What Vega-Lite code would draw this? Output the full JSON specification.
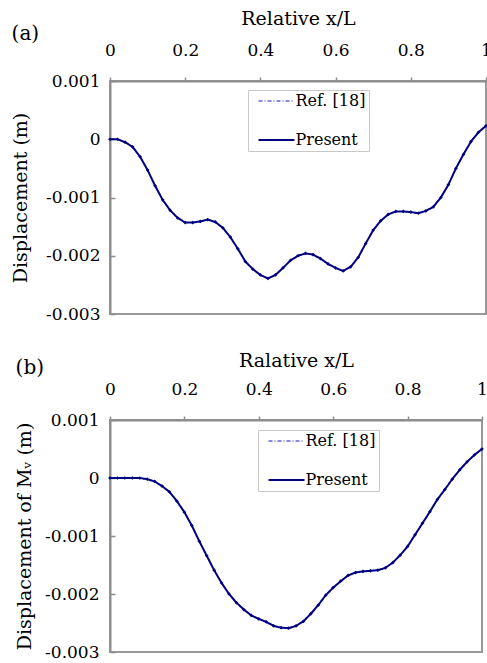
{
  "$schema": "https://vega.github.io/schema/vega-lite/v6.json",
  "padding": {"left": 10, "top": 8, "right": 0, "bottom": 0},
  "background": "white",
  "datasets": {
    "a": [
      {"x": 0, "y": 0}, {"x": 0.02, "y": 0}, {"x": 0.04, "y": -0.00005}, {"x": 0.06, "y": -0.00013},
      {"x": 0.08, "y": -0.0003}, {"x": 0.1, "y": -0.00053}, {"x": 0.12, "y": -0.0008}, {"x": 0.14, "y": -0.00104},
      {"x": 0.16, "y": -0.00122}, {"x": 0.18, "y": -0.00135}, {"x": 0.2, "y": -0.00143}, {"x": 0.22, "y": -0.00143},
      {"x": 0.24, "y": -0.00141}, {"x": 0.26, "y": -0.00138}, {"x": 0.28, "y": -0.00142}, {"x": 0.3, "y": -0.00152},
      {"x": 0.32, "y": -0.00168}, {"x": 0.34, "y": -0.00188}, {"x": 0.36, "y": -0.0021}, {"x": 0.38, "y": -0.00223},
      {"x": 0.4, "y": -0.00233}, {"x": 0.42, "y": -0.00239}, {"x": 0.44, "y": -0.00233}, {"x": 0.46, "y": -0.00221},
      {"x": 0.48, "y": -0.00208}, {"x": 0.5, "y": -0.002}, {"x": 0.52, "y": -0.00196}, {"x": 0.54, "y": -0.00198},
      {"x": 0.56, "y": -0.00205}, {"x": 0.58, "y": -0.00214}, {"x": 0.6, "y": -0.00221}, {"x": 0.62, "y": -0.00226},
      {"x": 0.64, "y": -0.00219}, {"x": 0.66, "y": -0.00203}, {"x": 0.68, "y": -0.00179}, {"x": 0.7, "y": -0.00156},
      {"x": 0.72, "y": -0.0014}, {"x": 0.74, "y": -0.00129}, {"x": 0.76, "y": -0.00124}, {"x": 0.78, "y": -0.00124},
      {"x": 0.8, "y": -0.00125}, {"x": 0.82, "y": -0.00127}, {"x": 0.84, "y": -0.00123}, {"x": 0.86, "y": -0.00116},
      {"x": 0.88, "y": -0.001}, {"x": 0.9, "y": -0.00078}, {"x": 0.92, "y": -0.0005}, {"x": 0.94, "y": -0.00026},
      {"x": 0.96, "y": -0.00004}, {"x": 0.98, "y": 0.00012}, {"x": 1, "y": 0.00023}
    ],
    "b": [
      {"x": 0, "y": 0}, {"x": 0.02, "y": 0}, {"x": 0.04, "y": 0}, {"x": 0.06, "y": 0},
      {"x": 0.08, "y": 0}, {"x": 0.1, "y": -0.00002}, {"x": 0.12, "y": -0.00006}, {"x": 0.14, "y": -0.00014},
      {"x": 0.16, "y": -0.00024}, {"x": 0.18, "y": -0.0004}, {"x": 0.2, "y": -0.00059}, {"x": 0.22, "y": -0.00082},
      {"x": 0.24, "y": -0.00109}, {"x": 0.26, "y": -0.00134}, {"x": 0.28, "y": -0.00159}, {"x": 0.3, "y": -0.00181},
      {"x": 0.32, "y": -0.002}, {"x": 0.34, "y": -0.00215}, {"x": 0.36, "y": -0.00227}, {"x": 0.38, "y": -0.00237},
      {"x": 0.4, "y": -0.00243}, {"x": 0.42, "y": -0.00248}, {"x": 0.44, "y": -0.00255}, {"x": 0.46, "y": -0.00258},
      {"x": 0.48, "y": -0.00259}, {"x": 0.5, "y": -0.00255}, {"x": 0.52, "y": -0.00247}, {"x": 0.54, "y": -0.00234},
      {"x": 0.56, "y": -0.00219}, {"x": 0.58, "y": -0.00202}, {"x": 0.6, "y": -0.00189}, {"x": 0.62, "y": -0.00178},
      {"x": 0.64, "y": -0.00168}, {"x": 0.66, "y": -0.00163}, {"x": 0.68, "y": -0.00161}, {"x": 0.7, "y": -0.0016},
      {"x": 0.72, "y": -0.00159}, {"x": 0.74, "y": -0.00155}, {"x": 0.76, "y": -0.00146}, {"x": 0.78, "y": -0.00133},
      {"x": 0.8, "y": -0.00118}, {"x": 0.82, "y": -0.00098}, {"x": 0.84, "y": -0.00078}, {"x": 0.86, "y": -0.00058},
      {"x": 0.88, "y": -0.00037}, {"x": 0.9, "y": -0.0002}, {"x": 0.92, "y": -0.00002}, {"x": 0.94, "y": 0.00014},
      {"x": 0.96, "y": 0.00028}, {"x": 0.98, "y": 0.0004}, {"x": 1, "y": 0.0005}
    ]
  },
  "columns": 1,
  "align": "none",
  "spacing": 27,
  "resolve": {"scale": {"color": "independent", "strokeDash": "independent", "x": "independent", "y": "independent"}},
  "concat": [
    {
      "title": {"text": "(a)", "anchor": "start", "frame": "bounds", "fontSize": 20, "fontWeight": "normal", "font": "DejaVu Serif", "color": "black", "offset": 0, "dy": 35},
      "width": 376,
      "height": 233,
      "data": {"name": "a"},
      "encoding": {
        "x": {"field": "x", "type": "quantitative", "scale": {"domain": [0, 1], "nice": false},
          "axis": {"orient": "top", "title": "Relative x/L", "values": [0, 0.2, 0.4, 0.6, 0.8, 1], "format": "~g", "tickSize": 4, "labelPadding": 18, "titlePadding": 13, "labelFlush": false}},
        "y": {"field": "y", "type": "quantitative", "scale": {"domain": [-0.003, 0.001], "nice": false, "zero": false},
          "axis": {"title": "Displacement (m)", "values": [0.001, 0, -0.001, -0.002, -0.003], "labelExpr": "datum.value == 0 ? '0' : (datum.value < 0 ? '-' : '') + format(abs(datum.value), '.3f')", "tickSize": -5, "labelPadding": 15, "titlePadding": 15, "labelFlush": false}}
      },
      "layer": [
        {
          "mark": {"type": "line", "strokeWidth": 1},
          "encoding": {
            "color": {"datum": "Ref. [18]", "type": "nominal", "scale": {"domain": ["Ref. [18]", "Present"], "range": ["#1414d2", "#000080"]},
              "legend": {"orient": "none", "legendX": 138, "legendY": 9, "title": null, "symbolType": "M-1.8,0H1.8", "symbolSize": 400, "symbolStrokeWidth": 1.5, "labelFontSize": 16, "labelFont": "DejaVu Serif", "labelColor": "black", "strokeColor": "#c8c8c8", "fillColor": "white", "padding": 3, "rowPadding": 23, "labelOffset": 11, "symbolOffset": 17.5,
                "encode": {"symbols": {"update": {"strokeWidth": {"signal": "datum.value === 'Present' ? 2 : 1.2"}}}}}},
            "strokeDash": {"datum": "Ref. [18]", "type": "nominal", "scale": {"domain": ["Ref. [18]", "Present"], "range": [[4, 2, 1, 2], [1, 0]]},
              "legend": {"orient": "none", "legendX": 138, "legendY": 9, "title": null, "symbolType": "M-1.8,0H1.8", "symbolSize": 400, "symbolStrokeWidth": 1.5, "labelFontSize": 16, "labelFont": "DejaVu Serif", "labelColor": "black", "strokeColor": "#c8c8c8", "fillColor": "white", "padding": 3, "rowPadding": 23, "labelOffset": 11, "symbolOffset": 17.5,
                "encode": {"symbols": {"update": {"strokeWidth": {"signal": "datum.value === 'Present' ? 2 : 1.2"}}}}}}
          }
        },
        {
          "mark": {"type": "line", "strokeWidth": 2, "point": {"shape": "diamond", "size": 14, "filled": true}},
          "encoding": {
            "color": {"datum": "Present", "type": "nominal"},
            "strokeDash": {"datum": "Present", "type": "nominal"}
          }
        }
      ]
    },
    {
      "title": {"text": "(b)", "anchor": "start", "frame": "bounds", "fontSize": 20, "fontWeight": "normal", "font": "DejaVu Serif", "color": "black", "offset": 0, "dy": 27},
      "width": 372,
      "height": 232,
      "data": {"name": "b"},
      "encoding": {
        "x": {"field": "x", "type": "quantitative", "scale": {"domain": [0, 1], "nice": false},
          "axis": {"orient": "top", "title": "Ralative x/L", "values": [0, 0.2, 0.4, 0.6, 0.8, 1], "format": "~g", "tickSize": 4, "labelPadding": 18, "titlePadding": 10, "labelFlush": false}},
        "y": {"field": "y", "type": "quantitative", "scale": {"domain": [-0.003, 0.001], "nice": false, "zero": false},
          "axis": {"title": "Displacement of Mᵥ (m)", "values": [0.001, 0, -0.001, -0.002, -0.003], "labelExpr": "datum.value == 0 ? '0' : (datum.value < 0 ? '-' : '') + format(abs(datum.value), '.3f')", "tickSize": -5, "labelPadding": 16, "titlePadding": 10, "labelFlush": false}}
      },
      "layer": [
        {
          "mark": {"type": "line", "strokeWidth": 1},
          "encoding": {
            "color": {"datum": "Ref. [18]", "type": "nominal", "scale": {"domain": ["Ref. [18]", "Present"], "range": ["#1414d2", "#000080"]},
              "legend": {"orient": "none", "legendX": 148, "legendY": 10, "title": null, "symbolType": "M-1.8,0H1.8", "symbolSize": 400, "symbolStrokeWidth": 1.5, "labelFontSize": 16, "labelFont": "DejaVu Serif", "labelColor": "black", "strokeColor": "#c8c8c8", "fillColor": "white", "padding": 3, "rowPadding": 23, "labelOffset": 11, "symbolOffset": 17.5,
                "encode": {"symbols": {"update": {"strokeWidth": {"signal": "datum.value === 'Present' ? 2 : 1.2"}}}}}},
            "strokeDash": {"datum": "Ref. [18]", "type": "nominal", "scale": {"domain": ["Ref. [18]", "Present"], "range": [[4, 2, 1, 2], [1, 0]]},
              "legend": {"orient": "none", "legendX": 148, "legendY": 10, "title": null, "symbolType": "M-1.8,0H1.8", "symbolSize": 400, "symbolStrokeWidth": 1.5, "labelFontSize": 16, "labelFont": "DejaVu Serif", "labelColor": "black", "strokeColor": "#c8c8c8", "fillColor": "white", "padding": 3, "rowPadding": 23, "labelOffset": 11, "symbolOffset": 17.5,
                "encode": {"symbols": {"update": {"strokeWidth": {"signal": "datum.value === 'Present' ? 2 : 1.2"}}}}}}
          }
        },
        {
          "mark": {"type": "line", "strokeWidth": 2, "point": {"shape": "diamond", "size": 14, "filled": true}},
          "encoding": {
            "color": {"datum": "Present", "type": "nominal"},
            "strokeDash": {"datum": "Present", "type": "nominal"}
          }
        }
      ]
    }
  ],
  "config": {
    "font": "DejaVu Serif",
    "view": {"stroke": "#999999", "strokeWidth": 2},
    "axis": {"grid": false, "domainColor": "#8c8c8c", "domainWidth": 2, "tickColor": "#8c8c8c", "tickWidth": 1.5,
      "labelFont": "DejaVu Serif", "labelFontSize": 17, "labelColor": "black",
      "titleFont": "DejaVu Serif", "titleFontSize": 19, "titleFontWeight": "normal", "titleColor": "black"}
  }
}
